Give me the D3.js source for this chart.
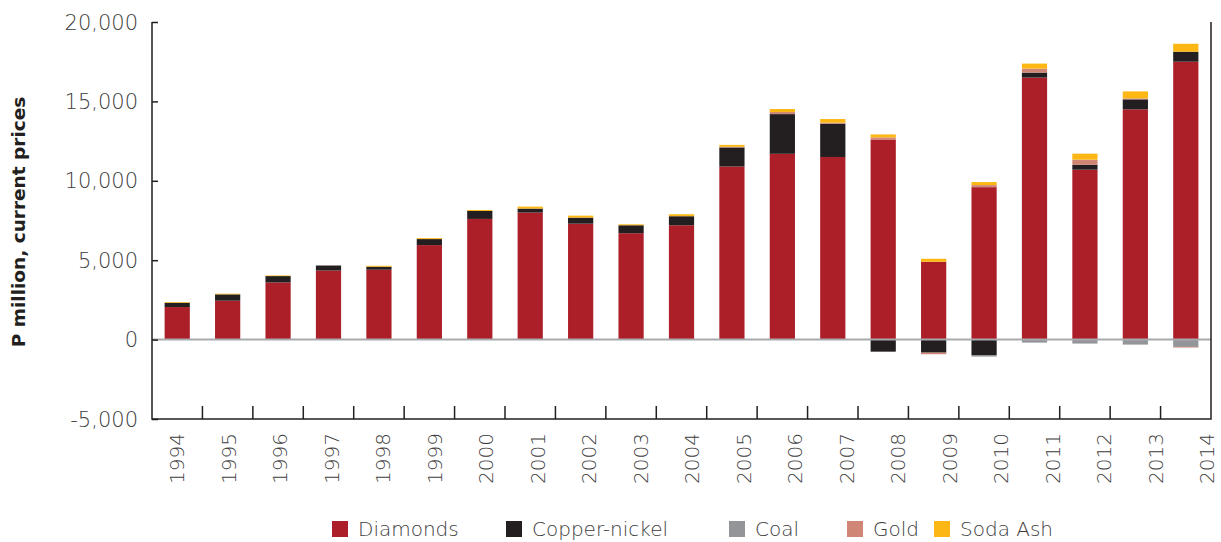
<!DOCTYPE html>
<html>
<head>
<meta charset="utf-8">
<script src="https://cdn.jsdelivr.net/npm/d3@7"></script>
<style>
  body { margin: 0; background: #fff; }
  text { font-family: "DejaVu Sans", sans-serif; }
</style>
</head>
<body>
<svg id="chart-svg"></svg>
<script>
const width = 1221;
const height = 542;

// data (P million)
const years = ["1994","1995","1996","1997","1998","1999","2000","2001","2002","2003","2004",
    "2005","2006","2007","2008","2009","2010","2011","2012","2013","2014"];
const diamonds = [2050, 2450, 3600, 4350, 4400, 5950, 7600, 8000, 7300, 6700, 7200,
    10900, 11700, 11500, 12600, 4900, 9600, 16500, 10700, 14500, 17500];
const copperNickel = [270, 400, 400, 315, 190, 380, 500, 250, 380, 500, 570,
    1200, 2500, 2100, -760, -820, -970, 315, 315, 630, 630];
const coal = [0, 0, 0, 0, 0, 0, 0, 0, 0, 0, 0,
    0, 0, 0, 0, 0, -100, -190, -250, -315, -460];
const gold = [0, 0, 0, 0, 0, 0, 0, 0, 0, 0, 0,
    40, 130, 60, 130, -100, 130, 250, 315, 60, -40];
const sodaAsh = [40, 40, 40, 0, 60, 60, 60, 125, 125, 60, 125,
    120, 190, 230, 190, 190, 190, 315, 380, 440, 500];

const seriesNames = ["Diamonds", "Copper-nickel", "Coal", "Gold", "Soda Ash"];
const seriesColors = ["#ad1f28", "#231f20", "#939598", "#d08674", "#fdb714"];
const yTicks = [-5000, 0, 5000, 10000, 15000, 20000];

const margin = {top: 22, right: 10, bottom: 123, left: 152};

let svg = d3.select("#chart-svg");
svg.attr("width", width).attr("height", height);

const table = years.map((y, i) => ({
    year: y,
    "Diamonds": diamonds[i],
    "Copper-nickel": copperNickel[i],
    "Coal": coal[i],
    "Gold": gold[i],
    "Soda Ash": sodaAsh[i]
}));

const x = d3.scaleBand()
    .domain(years)
    .range([margin.left, width - margin.right])
    .paddingInner(0.5)
    .paddingOuter(0.25);

// the year labels in the original are spread a little wider than the bars
const xLabel = d3.scalePoint()
    .domain(years)
    .range([x(years[0]) + x.bandwidth() / 2, width - margin.right - 4]);

const y = d3.scaleLinear()
    .domain([-5000, 20000])
    .range([height - margin.bottom, margin.top]);

const color = d3.scaleOrdinal().domain(seriesNames).range(seriesColors);

const stacked = d3.stack()
    .keys(seriesNames)
    .offset(d3.stackOffsetDiverging)(table);

// bars
svg.append("g").selectAll("g")
    .data(stacked)
    .enter()
    .append("g")
    .attr("fill", d => color(d.key))
    .selectAll("rect")
    .data(d => d)
    .enter()
    .append("rect")
    .attr("x", d => x(d.data.year))
    .attr("width", x.bandwidth())
    .attr("y", d => y(Math.max(d[0], d[1])))
    .attr("height", d => Math.abs(y(d[0]) - y(d[1])));

// zero line
svg.append("line")
    .attr("x1", margin.left)
    .attr("x2", width - margin.right)
    .attr("y1", y(0))
    .attr("y2", y(0))
    .attr("stroke", "#a7a9ac")
    .attr("stroke-width", 2);

// y axis, ticks pointing inwards
const yAxis = svg.append("g")
    .attr("transform", "translate(" + margin.left + ",0)")
    .call(d3.axisRight(y).tickValues(yTicks).tickSize(6).tickFormat(""));
yAxis.select(".domain").remove();
yAxis.selectAll("line").attr("stroke", "#231f20").attr("stroke-width", 1.5);

svg.append("g").selectAll("text")
    .data(yTicks)
    .enter()
    .append("text")
    .attr("x", margin.left - 14)
    .attr("y", d => y(d))
    .attr("dy", "0.36em")
    .attr("text-anchor", "end")
    .attr("font-size", 21)
    .attr("font-weight", 200)
    .attr("fill", "#3c3c3c")
    .text(d => d3.format(",")(d).replace("−", "-"));

// x axis ticks at band edges, pointing up
const xEdges = years.map(d => x(d) - x.step() * x.paddingInner() / 2).slice(1);
svg.append("g").selectAll("line")
    .data(xEdges)
    .enter()
    .append("line")
    .attr("x1", d => d)
    .attr("x2", d => d)
    .attr("y1", y(-5000))
    .attr("y2", y(-5000) - 13)
    .attr("stroke", "#231f20")
    .attr("stroke-width", 1.5);

// frame: left, bottom, right
svg.append("path")
    .attr("d", "M" + margin.left + "," + y(20000) + "V" + y(-5000) +
        "H" + (width - margin.right) + "V" + y(20000))
    .attr("fill", "none")
    .attr("stroke", "#231f20")
    .attr("stroke-width", 1.5);

// year labels, rotated
svg.append("g").selectAll("text")
    .data(years)
    .enter()
    .append("text")
    .attr("transform", d => "translate(" + xLabel(d) + "," + (y(-5000) + 14) + ") rotate(-90)")
    .attr("dy", "0.36em")
    .attr("text-anchor", "end")
    .attr("font-size", 20)
    .attr("font-weight", 200)
    .attr("fill", "#3c3c3c")
    .text(d => d);

// y axis title
svg.append("text")
    .attr("transform", "translate(25,222) rotate(-90)")
    .attr("text-anchor", "middle")
    .attr("font-size", 18.5)
    .attr("font-weight", "bold")
    .attr("fill", "#231f20")
    .text("P million, current prices");

// legend
const legendX = [332, 506, 729, 847, 934];
const legend = svg.append("g").selectAll("g")
    .data(seriesNames)
    .enter()
    .append("g")
    .attr("transform", (d, i) => "translate(" + legendX[i] + ",521)");
legend.append("rect")
    .attr("width", 16)
    .attr("height", 16)
    .attr("fill", d => color(d));
legend.append("text")
    .attr("x", 26)
    .attr("y", 8)
    .attr("dy", "0.36em")
    .attr("font-size", 20)
    .attr("font-weight", 200)
    .attr("fill", "#3c3c3c")
    .text(d => d);
</script>
</body>
</html>
